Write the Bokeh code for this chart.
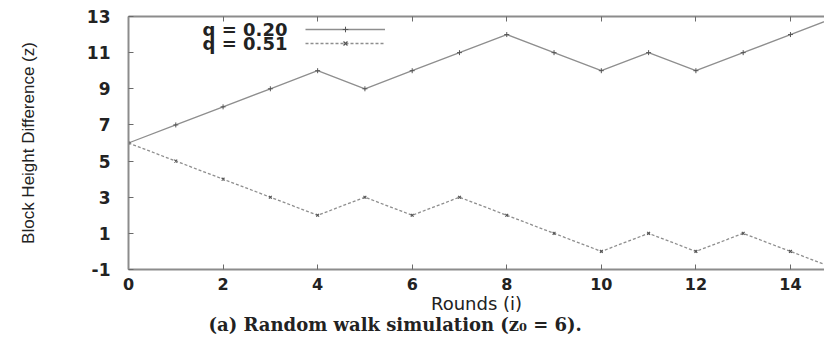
from bokeh.plotting import figure
from bokeh.models import (Range1d, FixedTicker, LinearAxis, Legend, LegendItem,
                          Label, Title, CustomJSTickFormatter)
from bokeh.embed import file_html
from bokeh.resources import INLINE

# ---- data ----
rounds = list(range(16))
walk_q020 = [6, 7, 8, 9, 10, 9, 10, 11, 12, 11, 10, 11, 10, 11, 12, 13]
walk_q051 = [6, 5, 4, 3, 2, 3, 2, 3, 2, 1, 0, 1, 0, 1, 0, -1]
series_labels = ["q = 0.20", "q = 0.51"]
x_ticks = [0, 2, 4, 6, 8, 10, 12, 14]
y_ticks = [-1, 1, 3, 5, 7, 9, 11, 13]
y_tick_text = {-1: "-1"}
x_label = "Rounds (i)"
y_label = "Block Height Difference (z)"
caption = "(a) Random walk simulation (z\u2080 = 6)."

AXIS_GREY = "#8c8c8c"
LINE_GREY = "#8e8e8e"
MARK_GREY = "#555555"
TEXT = "#222222"

p = figure(width=824, height=334, output_backend="svg", toolbar_location=None,
           x_range=Range1d(0, 14.72), y_range=Range1d(-1, 13),
           min_border_left=128, min_border_right=0, min_border_top=16,
           min_border_bottom=65, outline_line_color=None)
p.grid.visible = False


def style_axis(ax, ticks):
    ax.ticker = FixedTicker(ticks=ticks)
    ax.axis_line_color = AXIS_GREY
    ax.axis_line_width = 2
    ax.major_tick_in = 5
    ax.major_tick_out = 0
    ax.major_tick_line_color = "#6a6a6a"
    ax.minor_tick_line_color = None
    ax.major_label_text_font = "DejaVu Sans"
    ax.major_label_text_font_style = "bold"
    ax.major_label_text_font_size = "17px"
    ax.major_label_text_color = TEXT


style_axis(p.xaxis[0], x_ticks)
style_axis(p.yaxis[0], y_ticks)
p.yaxis[0].major_label_overrides = y_tick_text
p.xaxis[0].major_label_text_font_size = "16px"
p.xaxis[0].major_label_standoff = 8
p.yaxis[0].major_label_standoff = 18

p.xaxis[0].axis_label = x_label
p.xaxis[0].axis_label_text_font = "DejaVu Sans"
p.xaxis[0].axis_label_text_font_style = "normal"
p.xaxis[0].axis_label_text_font_size = "18px"
p.xaxis[0].axis_label_text_color = TEXT
p.xaxis[0].axis_label_standoff = 0

p.yaxis[0].axis_label = y_label
p.yaxis[0].axis_label_text_font = "Liberation Sans"
p.yaxis[0].axis_label_text_font_style = "normal"
p.yaxis[0].axis_label_text_font_size = "17px"
p.yaxis[0].axis_label_text_color = TEXT
p.yaxis[0].axis_label_standoff = 46

# mirrored ticks on top
top = LinearAxis(formatter=CustomJSTickFormatter(code="return ''"))
style_axis(top, x_ticks)
top.major_label_text_font_size = "1px"
top.major_label_standoff = 0
p.add_layout(top, "above")

r1 = p.line(rounds, walk_q020, line_color=LINE_GREY, line_width=1.3)
m1 = p.scatter(rounds, walk_q020, marker="cross", size=5, line_color=MARK_GREY, line_width=1)
r2 = p.line(rounds, walk_q051, line_color=LINE_GREY, line_width=1.3, line_dash="3 2")
m2 = p.scatter(rounds, walk_q051, marker="x", size=4, line_color=MARK_GREY, line_width=1.2)

legend = Legend(items=[LegendItem(label=" ", renderers=[r1, m1]),
                       LegendItem(label=" ", renderers=[r2, m2])],
                location=(177, 219), glyph_width=80, glyph_height=14,
                label_height=14, label_width=0, label_standoff=0,
                padding=0, margin=0, spacing=0, border_line_color=None,
                background_fill_alpha=0, label_text_font_size="1px")
p.add_layout(legend)

for txt, ypix in zip(series_labels, [240, 226]):
    p.add_layout(Label(x=159, y=ypix, x_units="screen", y_units="screen", text=txt,
                       text_align="right", text_baseline="middle",
                       text_font="DejaVu Sans", text_font_style="bold",
                       text_font_size="18px", text_color=TEXT))

cap = Title(text=caption, align="left", offset=80, standoff=-6, vertical_align="top",
            text_font="DejaVu Serif", text_font_style="bold",
            text_font_size="18px", text_color=TEXT)
p.add_layout(cap, "below")

open("out.html", "w").write(file_html(p, INLINE))
